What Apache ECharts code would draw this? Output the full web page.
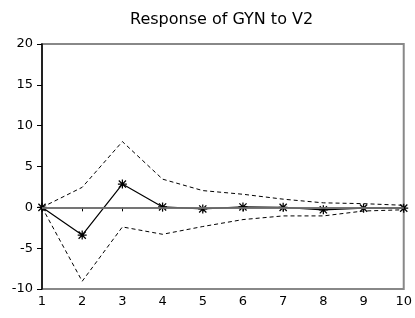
<!DOCTYPE html>
<html>
<head>
<meta charset="utf-8">
<script src="https://cdn.jsdelivr.net/npm/echarts@6/dist/echarts.min.js"></script>
<style>
  html, body { margin: 0; padding: 0; background: #fff; }
  #chart { width: 415px; height: 318px; }
</style>
</head>
<body>
<div id="chart"></div>
<script>
// periods of the impulse response
var periods = ['1', '2', '3', '4', '5', '6', '7', '8', '9', '10'];
// response of GYN to V2
var response = [0, -3.4, 2.85, 0.05, -0.2, 0.05, 0.0, -0.3, -0.1, -0.1];
// +/- 2 S.E. bands
var upperBand = [0, 2.45, 8.05, 3.45, 2.05, 1.6, 1.0, 0.55, 0.45, 0.25];
var lowerBand = [0, -9.05, -2.4, -3.3, -2.35, -1.5, -1.05, -1.05, -0.45, -0.3];
var yTicks = [-10, -5, 0, 5, 10, 15, 20];

// asterisk marker
var star = 'path://M4.3 0L5.7 0L5.7 10L4.3 10Z M0 4.3L10 4.3L10 5.7L0 5.7Z ' +
  'M0.5 1.5L1.5 0.5L9.5 8.5L8.5 9.5Z M8.5 0.5L9.5 1.5L1.5 9.5L0.5 8.5Z';

var chart = echarts.init(document.getElementById('chart'));
chart.setOption({
  animation: false,
  backgroundColor: '#fff',
  title: {
    text: 'Response of GYN to V2',
    left: 130,
    top: 12,
    padding: 0,
    textStyle: { fontFamily: 'DejaVu Sans', fontSize: 16, fontWeight: 'normal', color: '#000' }
  },
  grid: {
    left: 42, right: 9, top: 44, bottom: 29,
    show: true,
    borderColor: '#888',
    borderWidth: 2,
    containLabel: false
  },
  xAxis: {
    type: 'category',
    data: periods,
    boundaryGap: false,
    axisLine: { lineStyle: { color: '#000', width: 1.5 } },
    axisTick: { alignWithLabel: true, length: 4, lineStyle: { color: '#000' } },
    axisLabel: { color: '#000', fontFamily: 'DejaVu Sans', fontSize: 13, margin: 6 },
    splitLine: { show: false }
  },
  yAxis: {
    type: 'value',
    min: yTicks[0],
    max: yTicks[yTicks.length - 1],
    interval: 5,
    axisLine: { show: true, lineStyle: { color: '#000', width: 1.5 } },
    axisTick: { show: true, length: 5, lineStyle: { color: '#000' } },
    axisLabel: { color: '#000', fontFamily: 'DejaVu Sans', fontSize: 13, margin: 9 },
    splitLine: { show: false }
  },
  series: [
    {
      name: 'response',
      type: 'line',
      data: response,
      symbol: star,
      symbolSize: 9,
      itemStyle: { color: '#000' },
      lineStyle: { color: '#000', width: 1.2 },
      markLine: {
        silent: true,
        symbol: 'none',
        label: { show: false },
        lineStyle: { color: '#888', width: 1.5, type: 'solid' },
        data: [{ yAxis: 0 }]
      },
      z: 3
    },
    {
      name: 'upper',
      type: 'line',
      data: upperBand,
      showSymbol: false,
      lineStyle: { color: '#000', width: 1, type: [4, 3] }
    },
    {
      name: 'lower',
      type: 'line',
      data: lowerBand,
      showSymbol: false,
      lineStyle: { color: '#000', width: 1, type: [4, 3] }
    }
  ]
});
</script>
</body>
</html>
